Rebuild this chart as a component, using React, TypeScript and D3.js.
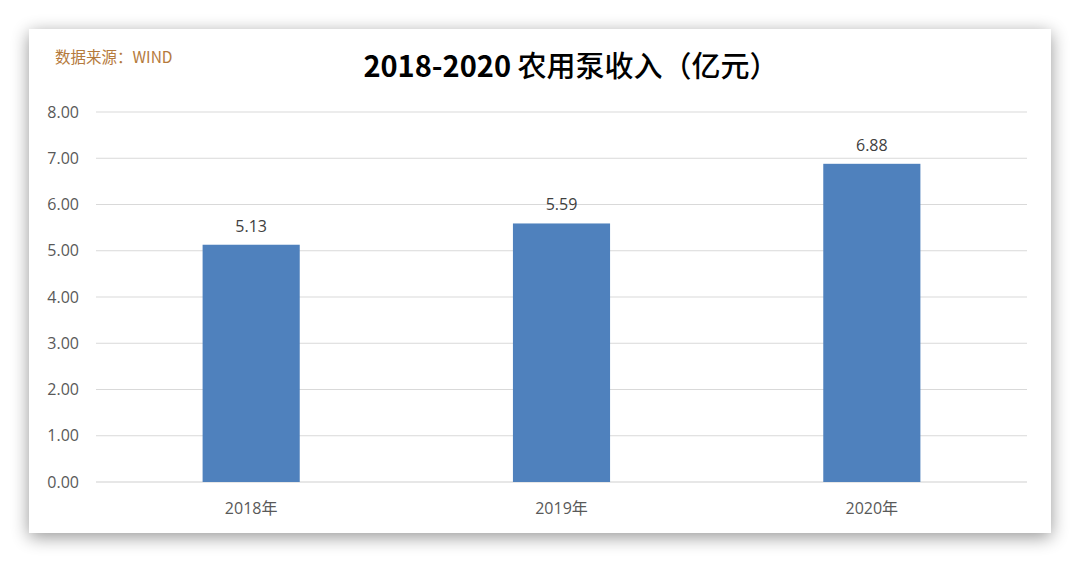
import * as d3 from "d3";
import { useEffect, useRef } from "react";

const years = ["2018年", "2019年", "2020年"];
const revenue = [5.13, 5.59, 6.88];
const yTicks = [0, 1, 2, 3, 4, 5, 6, 7, 8];

const W = 1080,
  H = 564;
const plot = { left: 96, right: 1027, top: 112, bottom: 482 };

export default function App() {
  const gRef = useRef<SVGGElement>(null);

  useEffect(() => {
    const g = d3.select(gRef.current);
    g.selectAll("*").remove();

    const x = d3
      .scaleBand()
      .domain(years)
      .range([plot.left, plot.right])
      .paddingInner(0.687)
      .paddingOuter(0.3435);
    const y = d3.scaleLinear().domain([0, 8]).range([plot.bottom, plot.top]);

    // gridlines
    g.append("g")
      .selectAll("line")
      .data(yTicks)
      .join("line")
      .attr("x1", plot.left)
      .attr("x2", plot.right)
      .attr("y1", (d) => y(d))
      .attr("y2", (d) => y(d))
      .attr("stroke", (d) => (d === 0 ? "#d0d0d0" : "#d9d9d9"))
      .attr("stroke-width", 1.2);

    // y tick labels
    g.append("g")
      .selectAll("text")
      .data(yTicks)
      .join("text")
      .attr("x", 79)
      .attr("y", (d) => y(d))
      .attr("dy", "0.35em")
      .attr("text-anchor", "end")
      .attr("font-size", 16)
      .attr("fill", "#595959")
      .text((d) => d3.format(".2f")(d));

    // bars
    g.append("g")
      .selectAll("rect")
      .data(revenue)
      .join("rect")
      .attr("x", (_, i) => x(years[i]))
      .attr("y", (d) => y(d))
      .attr("width", x.bandwidth())
      .attr("height", (d) => y(0) - y(d))
      .attr("fill", "#4f81bd");

    // value labels
    g.append("g")
      .selectAll("text")
      .data(revenue)
      .join("text")
      .attr("x", (_, i) => x(years[i]) + x.bandwidth() / 2)
      .attr("y", (d) => y(d) - 13)
      .attr("text-anchor", "middle")
      .attr("font-size", 16)
      .attr("fill", "#404040")
      .text((d) => d3.format(".2f")(d));

    // x labels
    g.append("g")
      .selectAll("text")
      .data(years)
      .join("text")
      .attr("x", (d) => x(d) + x.bandwidth() / 2)
      .attr("y", plot.bottom + 32)
      .attr("text-anchor", "middle")
      .attr("font-size", 16)
      .attr("fill", "#595959")
      .text((d) => d);
  }, []);

  return (
    <div style={{ position: "absolute", left: 0, top: 0, width: W, height: H, background: "#fff" }}>
      <svg
        width={W}
        height={H}
        style={{ display: "block", fontFamily: "'Open Sans', 'Noto Sans CJK SC', sans-serif" }}
      >
        <defs>
          <filter id="shadow" x="-5%" y="-8%" width="110%" height="118%">
            <feGaussianBlur in="SourceAlpha" stdDeviation="9" />
            <feOffset dx="0" dy="4" result="blur" />
            <feComponentTransfer>
              <feFuncA type="linear" slope="0.42" />
            </feComponentTransfer>
            <feMerge>
              <feMergeNode />
              <feMergeNode in="SourceGraphic" />
            </feMerge>
          </filter>
        </defs>
        <rect x={29} y={29} width={1022} height={504} fill="#fff" filter="url(#shadow)" />
        <text
          x={55}
          y={63}
          fontSize={15.5}
          fill="#b57a3c"
          style={{ fontFamily: "'Noto Sans CJK SC', sans-serif" }}
        >
          数据来源：WIND
        </text>
        <text
          x={571}
          y={77}
          textAnchor="middle"
          fontSize={29}
          fill="#000"
          style={{ fontFamily: "'Noto Sans CJK SC', sans-serif" }}
        >
          <tspan fontWeight="bold">2018-2020 </tspan>
          <tspan fontWeight="500">农用泵收入（亿元）</tspan>
        </text>
        <g ref={gRef} />
      </svg>
    </div>
  );
}
